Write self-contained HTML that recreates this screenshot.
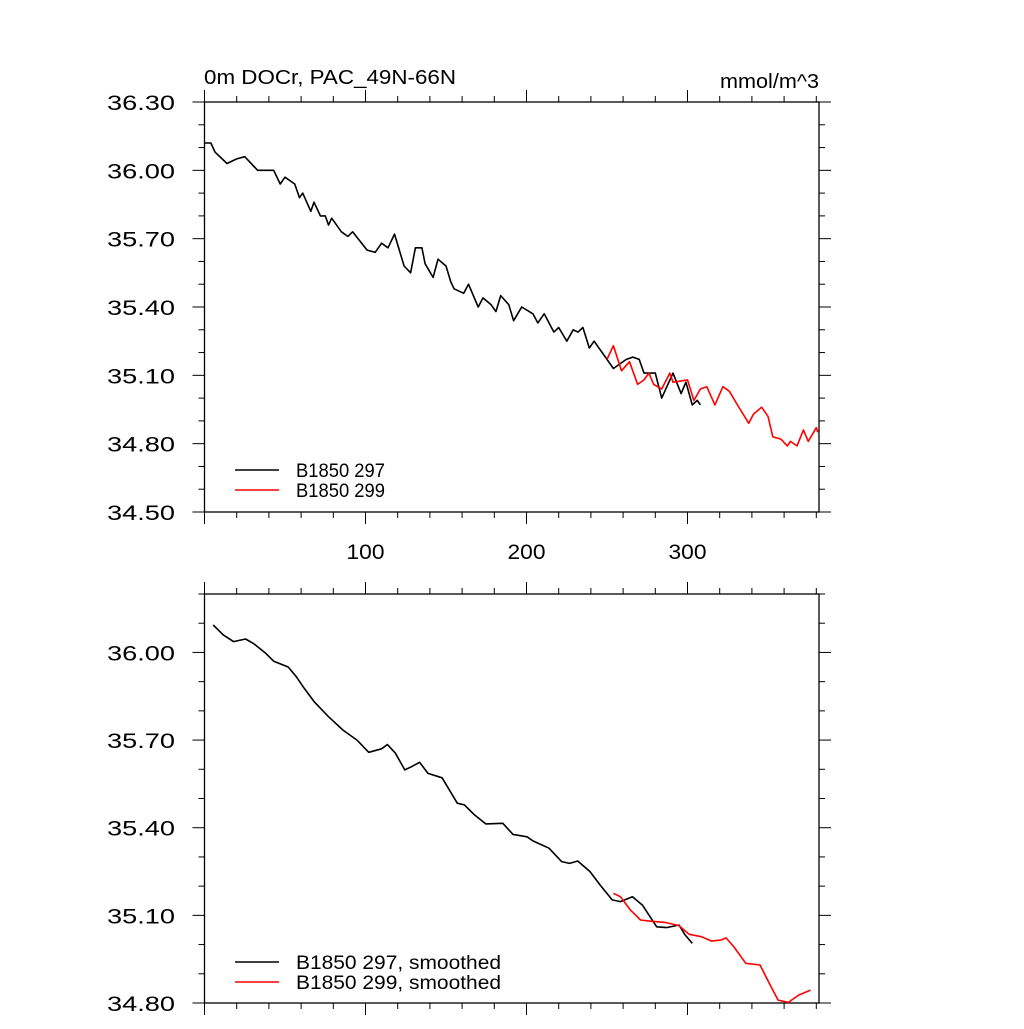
<!DOCTYPE html>
<html><head><meta charset="utf-8"><style>
html,body{margin:0;padding:0;background:#fff;}
svg text{font-family:"Liberation Sans",sans-serif;fill:#000;}
</style></head><body>
<svg id="chart" width="1024" height="1024" viewBox="0 0 1024 1024" xmlns="http://www.w3.org/2000/svg">
<rect width="1024" height="1024" fill="#fff"/>
<text x="204" y="84" font-size="20" textLength="252" lengthAdjust="spacingAndGlyphs">0m DOCr, PAC_49N-66N</text>
<text x="720" y="88" font-size="20" textLength="99" lengthAdjust="spacingAndGlyphs">mmol/m^3</text>
<g id="top"></g>
<g id="bot"></g>
</svg>
<script>
// Top panel data (raw)
const topX297 = [0,4,6.5,14,20,25,33,43,47,50,56,59,61,66,68,72,75,77,79,85,89,92,101,106,110,114,118,124,128,131,135,137,142,145,150,153,155,161,164,170,173,178,181,184,189,192,197,204,207,211,217,220,225,229,232,235,239,242,249,250,254,262,266,270,273,280,284,291,296,299,303,306,308];
const topY297 = [36.12,36.12,36.08,36.03,36.05,36.06,36.0,36.0,35.94,35.97,35.94,35.88,35.90,35.82,35.86,35.80,35.80,35.76,35.79,35.73,35.71,35.73,35.65,35.64,35.68,35.66,35.72,35.58,35.55,35.66,35.66,35.59,35.53,35.61,35.58,35.51,35.48,35.46,35.50,35.40,35.44,35.41,35.38,35.45,35.41,35.34,35.40,35.37,35.33,35.37,35.29,35.31,35.25,35.30,35.29,35.31,35.22,35.25,35.18,35.17,35.13,35.17,35.18,35.17,35.11,35.11,35.00,35.11,35.02,35.07,34.97,34.99,34.97];
const topX299 = [250,254,259,264,269,273,276,279,284,289,291,300,304,308,312,317,322,326,331,338,341,346,350,353,358,362,364,368,372,375,380,381];
const topY299 = [35.17,35.23,35.12,35.16,35.06,35.08,35.11,35.06,35.04,35.11,35.07,35.08,34.99,35.04,35.05,34.97,35.05,35.03,34.97,34.89,34.93,34.96,34.92,34.83,34.82,34.79,34.81,34.79,34.86,34.81,34.87,34.85];
// Bottom panel data (smoothed)
const botX297 = [5.4,11.7,18,25.5,30.6,38,43,52,57,62,68.3,77,86,94.7,102,110,113.6,118.6,124.4,128.6,133.6,138.8,147.6,157,161.4,167.7,174.7,185.3,191.6,200.4,204,214,221.8,226.8,231.8,239.4,245.7,253.2,258.3,265.8,272,280.9,287,294.7,298.5,303];
const botY297 = [36.094,36.06,36.037,36.046,36.03,35.997,35.97,35.95,35.917,35.877,35.83,35.78,35.734,35.70,35.658,35.67,35.685,35.655,35.598,35.609,35.624,35.586,35.571,35.484,35.478,35.444,35.413,35.415,35.377,35.369,35.355,35.33,35.284,35.278,35.286,35.25,35.204,35.153,35.147,35.164,35.135,35.061,35.058,35.067,35.033,35.004];
const botX299 = [254,258.3,264.6,270.8,277,286,294.7,301,308.6,315,321,324,328.7,336.2,345,351.3,356.3,362.7,369,376.4];
const botY299 = [35.175,35.164,35.118,35.084,35.08,35.076,35.065,35.035,35.027,35.012,35.016,35.023,34.993,34.936,34.93,34.862,34.81,34.802,34.827,34.844];
const topYTicks = ["34.50","34.80","35.10","35.40","35.70","36.00","36.30"];
const botYTicks = ["34.80","35.10","35.40","35.70","36.00"];
const xTickLabels = ["100","200","300"];

const NS="http://www.w3.org/2000/svg";
const L=204.5,R=819,XMAX=(819-204.5)/1.61;
function mk(tag,attrs,parent){const e=document.createElementNS(NS,tag);for(const k in attrs)e.setAttribute(k,attrs[k]);parent.appendChild(e);return e;}

function panel(g,T,B,ymin,ymax,yticks,showX,s1x,s1y,s2x,s2y,legend,legLens,legY,nm){
  const sx=v=>L+v*(R-L)/XMAX;
  const sy=v=>B-(v-ymin)/(ymax-ymin)*(B-T);
  const frame=mk('rect',{x:L,y:T,width:R-L,height:B-T,fill:'none',stroke:'#000','stroke-width':1.3},g);
  
  
  for(let v=Math.round(ymin*10);v<=Math.round(ymax*10);v++){
    const y=sy(v/10);const maj=Math.round(v-ymin*10)%3===0;const len=maj?12:6;
    const t1=mk('line',{x1:L,x2:L-len,y1:y,y2:y,stroke:'#000','stroke-width':1},g);
    
    
    const t2=mk('line',{x1:R,x2:R+len,y1:y,y2:y,stroke:'#000','stroke-width':1},g);
    
    
  }
  yticks.forEach(s=>{
    const t=mk('text',{x:107,y:sy(parseFloat(s))+8,'font-size':21,textLength:68,lengthAdjust:'spacingAndGlyphs'},g);t.textContent=s;
    
    
  });
  for(let v=0;v<=XMAX;v+=20){
    const x=sx(v);const maj=v%100===0;const len=maj?12:6;
    const a=mk('line',{x1:x,x2:x,y1:T,y2:T-len,stroke:'#000','stroke-width':1},g);
    
    
    const b=mk('line',{x1:x,x2:x,y1:B,y2:B+len,stroke:'#000','stroke-width':1},g);
    
    
  }
  if(showX) xTickLabels.forEach(s=>{
    const t=mk('text',{x:sx(parseFloat(s))-19,y:559,'font-size':21,textLength:38,lengthAdjust:'spacingAndGlyphs'},g);t.textContent=s;
    
    
  });
  const line=(xs,ys,c,n)=>{
    const p=mk('polyline',{points:xs.map((x,i)=>sx(x).toFixed(1)+','+sy(ys[i]).toFixed(1)).join(' '),fill:'none',stroke:c,'stroke-width':1.6,'stroke-linejoin':'round'},g);
    
    
  };
  line(s1x,s1y,'#000',nm+'-series-297');
  line(s2x,s2y,'#f00',nm+'-series-299');
  legend.forEach((s,i)=>{
    const y=legY+i*20;
    const l=mk('line',{x1:235,x2:279,y1:y,y2:y,stroke:i?'#f00':'#000','stroke-width':1.5},g);
    
    
    const t=mk('text',{x:296,y:y+7,'font-size':19,textLength:legLens[i],lengthAdjust:'spacingAndGlyphs'},g);t.textContent=s;
    
    
  });
}
panel(document.getElementById('top'),102,512,34.5,36.3,topYTicks,true,topX297,topY297,topX299,topY299,["B1850 297","B1850 299"],[89,89],470,'top-panel');
panel(document.getElementById('bot'),594,1003,34.8,36.2,botYTicks,false,botX297,botY297,botX299,botY299,["B1850 297, smoothed","B1850 299, smoothed"],[205,205],962,'bottom-panel');
</script>
</body></html>
